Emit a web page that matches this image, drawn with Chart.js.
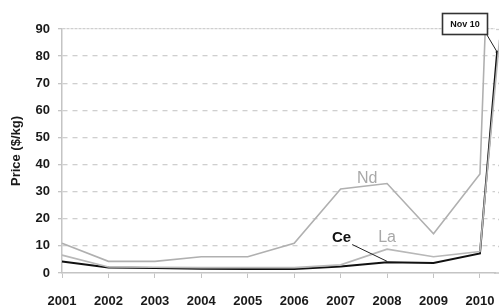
<!DOCTYPE html>
<html>
<head>
<meta charset="utf-8">
<script src="https://cdn.jsdelivr.net/npm/chart.js@4/dist/chart.umd.min.js"></script>
<style>
  html, body { margin: 0; padding: 0; background: #ffffff; }
  #wrap { width: 499px; height: 306px; position: relative; }
</style>
</head>
<body>
<div id="wrap"><canvas id="c" width="499" height="306"></canvas></div>
<script>
// ---- data ----
const years = [2001, 2002, 2003, 2004, 2005, 2006, 2007, 2008, 2009, 2010];
const ndPrice = [11, 4.3, 4.3, 6, 6, 11, 31, 33, 14.5, 36.5];
const laPrice = [6.6, 2.2, 2.1, 2, 2, 2, 3, 8.8, 6, 7.9];
const cePrice = [4.2, 2, 1.8, 1.6, 1.5, 1.5, 2.4, 4, 3.7, 7.2];
// Nov 2010 points (position past 2010 on the time axis, value)
const novLabel = 'Nov 10';
const ndNov = { x: 2010.11, y: 88 };
const laNov = { x: 2010.42, y: 86 };
const ceNov = { x: 2010.37, y: 81.5 };
const yTicks = [0, 10, 20, 30, 40, 50, 60, 70, 80, 90];

function series(vals, nov) {
  const pts = years.map((y, i) => ({ x: y, y: vals[i] }));
  pts.push(nov);
  return pts;
}

function zeroPad(s) { s.paddingLeft = 0; s.paddingRight = 0; s.paddingTop = 0; s.paddingBottom = 0; }

// extends the dashed grid lines to the right edge of the canvas
const gridExt = {
  id: 'gridExt',
  beforeDatasetsDraw(chart) {
    const { ctx, chartArea: a, scales: { y } } = chart;
    ctx.save();
    ctx.strokeStyle = '#cfcfcf';
    ctx.lineWidth = 1.3;
    yTicks.forEach(v => {
      if (v === 0) return;
      const py = Math.round(y.getPixelForValue(v)) + 0.5;
      ctx.setLineDash(v === 90 ? [3, 1] : [5, 5]);
      ctx.lineDashOffset = -((a.right - a.left) % (v === 90 ? 4 : 10));
      ctx.beginPath();
      ctx.moveTo(a.right, py);
      ctx.lineTo(chart.width, py);
      ctx.stroke();
    });
    ctx.setLineDash([]);
    ctx.strokeStyle = '#c4c4c4';
    ctx.lineWidth = 1.5;
    const pb = y.getPixelForValue(0);
    ctx.beginPath();
    ctx.moveTo(a.right - 1, pb);
    ctx.lineTo(chart.width, pb);
    ctx.stroke();
    ctx.restore();
  }
};

const annot = {
  id: 'annot',
  afterDatasetsDraw(chart) {
    const { ctx, scales: { x, y } } = chart;
    ctx.save();
    ctx.textAlign = 'center';
    ctx.textBaseline = 'middle';
    ctx.font = '16px "Liberation Sans", Arial, sans-serif';
    ctx.fillStyle = '#a8a8a8';
    ctx.fillText('Nd', x.getPixelForValue(2007.57), y.getPixelForValue(35));
    ctx.fillText('La', x.getPixelForValue(2008.0), y.getPixelForValue(13));
    ctx.font = 'bold 15px "Liberation Sans", Arial, sans-serif';
    ctx.fillStyle = '#111';
    ctx.fillText('Ce', x.getPixelForValue(2007.02), y.getPixelForValue(13));
    ctx.strokeStyle = '#222';
    ctx.lineWidth = 1;
    ctx.beginPath();
    ctx.moveTo(x.getPixelForValue(2007.25), y.getPixelForValue(10.5));
    ctx.lineTo(x.getPixelForValue(2008), y.getPixelForValue(4.3));
    ctx.stroke();
    const bx = 442, by = 13, bw = 46, bh = 22;
    ctx.strokeStyle = '#222';
    ctx.lineWidth = 1;
    ctx.beginPath();
    ctx.moveTo(bx + bw - 1, by + bh);
    ctx.lineTo(x.getPixelForValue(ceNov.x), y.getPixelForValue(ceNov.y));
    ctx.stroke();
    ctx.fillStyle = '#fff';
    ctx.fillRect(bx, by, bw, bh);
    ctx.lineWidth = 1.6;
    ctx.strokeStyle = '#333';
    ctx.strokeRect(bx + 0.5, by + 0.5, bw - 1, bh - 1);
    ctx.fillStyle = '#111';
    ctx.font = 'bold 9px "Liberation Sans", Arial, sans-serif';
    ctx.fillText(novLabel, bx + bw / 2, by + bh / 2 + 0.5);
    ctx.restore();
  }
};

const lineClip = { left: 2, top: 30, right: 6, bottom: 2 };

new Chart(document.getElementById('c'), {
  type: 'line',
  data: {
    datasets: [
      { label: 'Nd', data: series(ndPrice, ndNov), borderColor: '#b0b0b0', borderWidth: 1.6, pointRadius: 0, tension: 0, clip: lineClip },
      { label: 'La', data: series(laPrice, laNov), borderColor: '#b8b8b8', borderWidth: 1.6, pointRadius: 0, tension: 0, clip: lineClip },
      { label: 'Ce', data: series(cePrice, ceNov), borderColor: '#111111', borderWidth: 2, clip: lineClip,
        pointRadius: (c) => c.dataIndex === years.length ? 1.5 : 0, pointBackgroundColor: '#111', pointBorderWidth: 0, tension: 0 }
    ]
  },
  options: {
    responsive: false,
    animation: false,
    layout: { padding: { top: 29, right: 0, left: 0, bottom: 0 } },
    plugins: { legend: { display: false }, tooltip: { enabled: false } },
    scales: {
      x: {
        type: 'linear',
        min: 2001,
        max: 2010.324,
        afterBuildTicks: (axis) => { axis.ticks = years.map(v => ({ value: v })); },
        afterFit: (s) => { s.height = 33; zeroPad(s); },
        ticks: {
          color: '#1a1a1a',
          padding: 16,
          maxRotation: 0,
          autoSkip: false,
          font: { family: '"Liberation Sans", Arial, sans-serif', size: 13, weight: 'bold' },
          callback: (v) => String(v)
        },
        grid: { drawOnChartArea: false, drawTicks: true, tickLength: 5, tickColor: '#c4c4c4', tickWidth: 1 },
        border: { display: true, color: '#c4c4c4', width: 1.5 }
      },
      y: {
        min: 0,
        max: 90,
        afterBuildTicks: (axis) => { axis.ticks = yTicks.map(v => ({ value: v })); },
        afterFit: (s) => { s.width = 62; zeroPad(s); },
        ticks: {
          color: '#1a1a1a',
          padding: 8,
          font: { family: '"Liberation Sans", Arial, sans-serif', size: 13, weight: 'bold' }
        },
        grid: {
          color: (c) => c.tick && c.tick.value === 0 ? 'rgba(0,0,0,0)' : '#cfcfcf',
          lineWidth: 1.3,
          drawTicks: true,
          tickLength: 4,
          tickColor: '#c4c4c4',
          tickBorderDash: []
        },
        border: {
          display: true, color: '#c4c4c4', width: 1.5,
          dash: (c) => c.type === 'tick' ? (c.tick.value === 90 ? [3, 1] : [5, 5]) : []
        },
        title: {
          display: true,
          text: 'Price ($/kg)',
          color: '#1a1a1a',
          padding: { top: 9, bottom: 0 },
          font: { family: '"Liberation Sans", Arial, sans-serif', size: 13, weight: 'bold' }
        }
      }
    }
  },
  plugins: [gridExt, annot]
});
</script>
</body>
</html>
